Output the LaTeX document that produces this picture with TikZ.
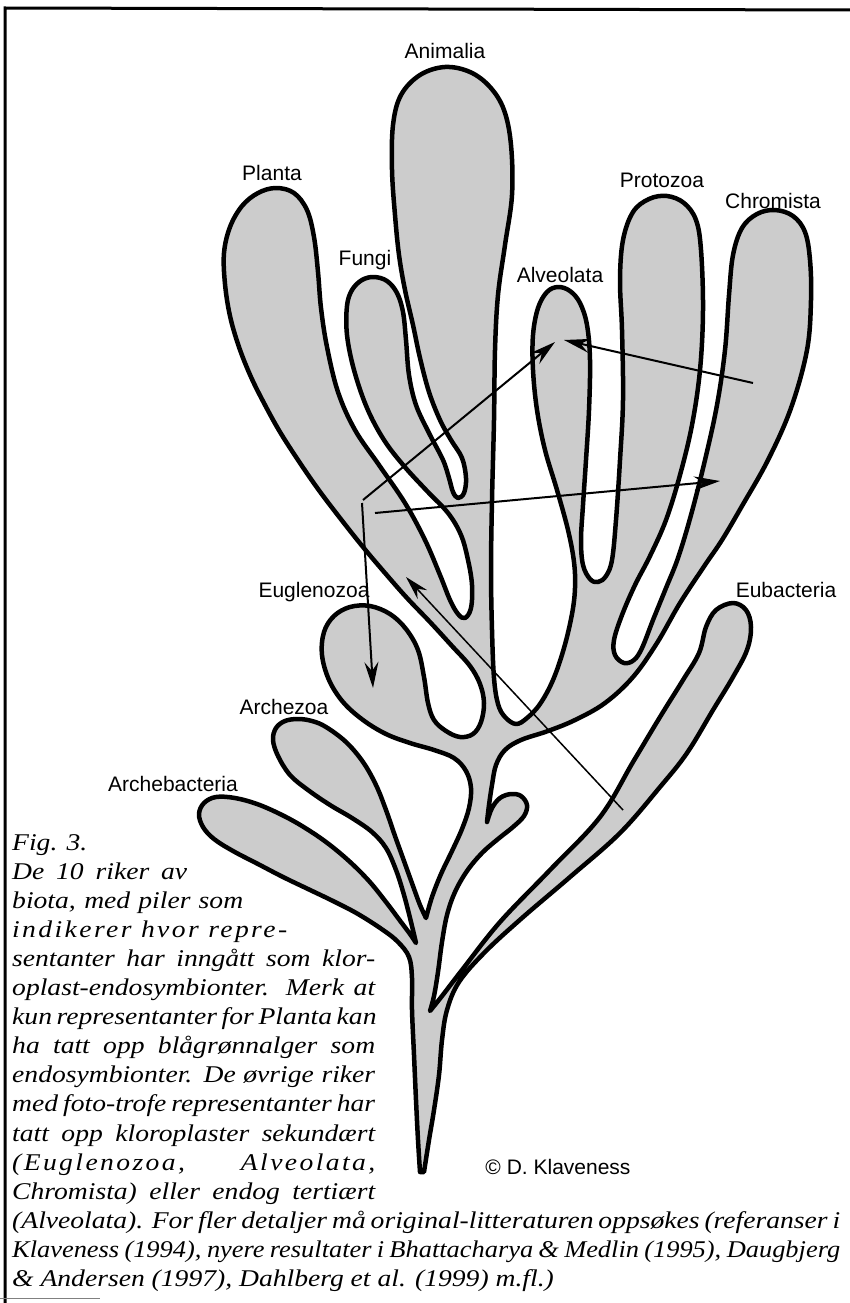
\documentclass[tikz,border=0pt]{standalone}
\usepackage{fontspec}
\setmainfont{Liberation Serif}
\newfontfamily\labfont{Liberation Sans}
\newfontface\capit[FakeStretch=1.15]{Liberation Serif Italic}
\newfontface\capitn[FakeStretch=1.10]{Liberation Serif Italic}
\newfontface\capitls[FakeStretch=1.15,LetterSpace=10]{Liberation Serif Italic}
\usetikzlibrary{arrows.meta}
\definecolor{treegray}{gray}{0.80}
\newcommand{\capline}[2]{\makebox[#1][s]{#2}}
\tikzset{
  tree/.style={fill=treegray, draw=black, line width=4.5pt, line join=round},
  lab/.style={font=\labfont\fontsize{21}{25}\selectfont, inner sep=0pt},
  captxt/.style={font=\capit\fontsize{24}{29}\selectfont, inner sep=0pt, anchor=base west},
  captn/.style={font=\capitn\fontsize{24}{29}\selectfont, inner sep=0pt, anchor=base west},
  captls/.style={font=\capitls\fontsize{24}{29}\selectfont, inner sep=0pt, anchor=base west},
  arr/.style={line width=2pt, -{Stealth[length=26pt,width=14pt,inset=9pt]}},
  thinarr/.style={line width=1.5pt, -{Stealth[length=24pt,width=13pt,inset=8pt]}},
}
\begin{document}
\begin{tikzpicture}[x=1pt,y=-1pt]
\useasboundingbox (0,0) rectangle (850,1303);
% frame
\draw[line width=3pt] (5,1303) -- (5,8) -- (850,10);
\draw[line width=1pt, gray] (0,1298) -- (100,1298);

% tree outline
\filldraw[tree]
 plot[smooth, tension=0.6] coordinates {(420,1172) (418,1140) (416,1100) (414,1055) (412,1010) (412,978) (409,957) (398,942) (383,930) (358,914) (333,901) (308,889) (283,877) (258,864) (233,851) (214,839) (203,827) (199,814) (204,803) (216,797) (235,798) (257,804) (280,814) (302,826) (326,842) (349,861) (369,881) (386,902) (401,922) (410,934) (416,943)}
 -- plot[smooth, tension=0.6] coordinates {(416,943) (411,922) (404,895) (396,870) (386,848) (372,832) (352,818) (330,805) (308,790) (290,775) (278,756) (273,740) (276,728) (285,721) (298,719) (312,721) (326,727) (346,742) (363,762) (376,785) (386,810) (395,836) (404,861) (413,886) (420,905) (426,918)}
 -- plot[smooth, tension=0.6] coordinates {(426,918) (432,897) (441,874) (452,851) (462,829) (469,808) (471,788) (466,771) (454,758) (434,750) (410,743) (386,734) (363,720) (343,702) (329,680) (322,655) (324,632) (334,616) (350,607) (370,606) (390,614) (406,629) (418,650) (424,677) (428,703) (434,720) (446,731) (460,737) (473,734) (481,722) (484,703) (480,684) (470,666) (452,646) (430,622) (407,598) (385,573) (363,547) (340,518) (318,489) (298,460) (280,432) (265,405) (251,377) (239,347) (230,316) (225,284) (224,253) (230,227) (242,206) (258,193) (276,188) (294,193) (307,210) (314,237) (318,272) (321,308) (327,347) (338,392) (355,430) (379,465) (405,503) (425,540) (440,575) (450,600) (458,614) (465,618) (471,608) (472,585) (468,560) (461,535) (448,513) (427,491) (404,466) (384,440) (367,408) (354,370) (347,335) (347,306) (352,290) (362,280) (374,277) (387,281) (397,293) (403,312) (406,340) (409,375) (416,405) (429,433) (443,460) (449,478) (453,492) (458,498) (464,493) (466,478) (462,458) (451,440) (440,420) (429,392) (420,358) (413,325) (405,290) (399,255) (395,215) (392,170) (393,125) (401,95) (420,75) (445,67) (470,72) (490,87) (504,110) (511,145) (512,195) (505,245) (498,295) (495,350) (494,420) (492,500) (491,570) (492,630) (494,678) (498,704) (505,717) (516,724) (527,718) (540,704) (553,680) (564,648) (572,614) (575,588) (574,562) (568,530) (557,490) (545,450) (537,410) (533,370) (533,335) (538,308) (547,292) (558,287) (570,291) (580,303) (587,325) (590,360) (589,410) (586,460) (583,505) (581,540) (583,565) (590,579) (598,582) (606,576) (612,560) (616,520) (620,460) (623,400) (622,330) (620,280) (623,240) (633,212) (649,199) (667,196) (684,203) (696,220) (701,250) (703,310) (700,370) (692,425) (680,475) (666,520) (650,556) (635,585) (622,615) (614,640) (615,655) (624,663) (634,660) (642,648) (653,620) (666,588) (678,558) (691,515) (705,460) (717,405) (725,350) (729,295) (733,255) (742,228) (757,214) (775,210) (793,216) (805,232) (810,260) (811,300) (807,350) (791,408) (768,460) (742,506) (722,540) (705,565) (680,603) (657,643) (633,677) (605,703) (575,720) (548,731) (521,740) (505,750) (496,765) (492,785) (489,805) (487,822)}
 -- plot[smooth, tension=0.6] coordinates {(487,822) (492,808) (500,798) (511,794) (521,796) (527,805) (524,816) (513,827) (498,839) (482,853) (467,871) (455,892) (447,915) (442,942) (438,972) (434,996) (430,1011)}
 -- plot[smooth, tension=0.6] coordinates {(430,1011) (442,996) (462,970) (500,922) (550,870) (600,817) (633,762) (660,717) (683,680) (699,653) (706,627) (716,610) (733,603) (746,610) (751,627) (747,650) (733,677) (713,710) (687,753) (660,787) (620,833) (570,877) (522,918) (485,952) (459,982) (447,1010) (442,1040) (439,1075) (434,1110) (429,1140) (424,1172)}
 -- cycle;

% arrow end points
\coordinate (pA) at (363,500);
\coordinate (alvIn) at (555,342);
\coordinate (pB) at (362,503);
\coordinate (eugIn) at (373,688);
\coordinate (pC) at (375,513);
\coordinate (chrIn) at (720,481);
\coordinate (chrOut) at (753,383);
\coordinate (alvIn2) at (564,340);
\coordinate (eubOut) at (623,810);
\coordinate (plaIn) at (406,577);

\draw[arr] (pA) -- (alvIn);
\draw[arr] (pB) -- (eugIn);
\draw[arr] (pC) -- (chrIn);
\draw[arr] (chrOut) -- (alvIn2);
\draw[thinarr] (eubOut) -- (plaIn);

% labels
\node[lab] (lAnimalia) at (445,51) {Animalia};
\node[lab] (lPlanta) at (272,173) {Planta};
\node[lab] (lFungi) at (365,260) {Fungi};
\node[lab] (lAlveolata) at (560,275) {Alveolata};
\node[lab] (lProtozoa) at (662,180) {Protozoa};
\node[lab] (lChromista) at (773,201) {Chromista};
\node[lab] (lEuglenozoa) at (314,592) {Euglenozoa};
\node[lab] (lArchezoa) at (284,707) {Archezoa};
\node[lab] (lArchebacteria) at (173,784) {Archebacteria};
\node[lab] (lEubacteria) at (786,590) {Eubacteria};
\node[lab] (lCopy) at (558,1167) {© D. Klaveness};

% caption
\node[captxt] (c1) at (12,850.0) {Fig. 3.};
\node[captxt] (c2) at (12,879.1) {\capline{175pt}{De 10 riker av}};
\node[captxt] (c3) at (12,908.2) {\capline{231pt}{biota, med piler som}};
\node[captls] (c4) at (12,937.3) {\capline{275pt}{indikerer hvor repre-}};
\node[captxt] (c5) at (12,966.4) {\capline{363pt}{sentanter har inngått som klor-}};
\node[captxt] (c6) at (12,995.5) {\capline{363pt}{oplast-endosymbionter. Merk at}};
\node[captxt] (c7) at (12,1024.6) {\capline{363pt}{kun representanter for Planta kan}};
\node[captxt] (c8) at (12,1053.7) {\capline{363pt}{ha tatt opp blågrønnalger som}};
\node[captxt] (c9) at (12,1082.8) {\capline{363pt}{endosymbionter. De øvrige riker}};
\node[captxt] (c10) at (12,1111.9) {\capline{363pt}{med foto-trofe representanter har}};
\node[captxt] (c11) at (12,1141.0) {\capline{363pt}{tatt opp kloroplaster sekundært}};
\node[captls] (c12) at (12,1170.1) {\capline{363pt}{(Euglenozoa, Alveolata,}};
\node[captxt] (c13) at (12,1199.2) {\capline{363pt}{Chromista) eller endog tertiært}};
\node[captxt] (c14) at (12,1228.3) {\capline{828pt}{(Alveolata). For fler detaljer må original-litteraturen oppsøkes (referanser i}};
\node[captn] (c15) at (12,1257.4) {\capline{828pt}{Klaveness (1994), nyere resultater i Bhattacharya \& Medlin (1995), Daugbjerg}};
\node[captxt] (c16) at (12,1286.5) {\& Andersen (1997), Dahlberg et al. (1999) m.fl.)};
\end{tikzpicture}
\end{document}
